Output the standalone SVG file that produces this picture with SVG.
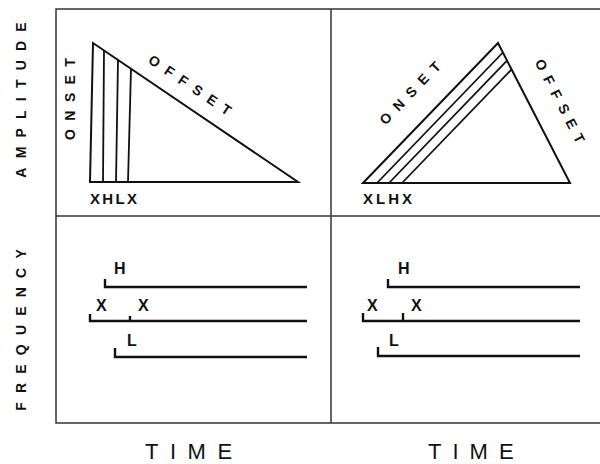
<svg xmlns="http://www.w3.org/2000/svg" width="600" height="464" viewBox="0 0 600 464">
<style>
.frame{stroke:#333;stroke-width:1.5;fill:none}
.tri{stroke:#111;stroke-width:2;fill:none;stroke-linejoin:miter}
.ln{stroke:#111;stroke-width:1.8;fill:none}
.fl{stroke:#111;stroke-width:2.4;fill:none}
.lab{font-family:"Liberation Sans",Arial,sans-serif;font-weight:bold;font-size:14px;fill:#111}
.axis{font-family:"Liberation Sans",Arial,sans-serif;font-weight:bold;font-size:14px;fill:#111;letter-spacing:9.2px}
.mk{font-family:"Liberation Sans",Arial,sans-serif;font-weight:bold;font-size:16px;fill:#111}
.time{font-family:"Liberation Sans",Arial,sans-serif;font-size:22px;fill:#111}
</style>
<rect width="600" height="464" fill="#fff"/>
<g id="frame">
<polyline class="frame" points="600,9 56,9 56,423 600,423"/>
<line class="frame" x1="56" y1="216" x2="600" y2="216"/>
<line class="frame" x1="331" y1="9" x2="331" y2="423"/>
</g>
<g id="axis-labels">
<text class="axis" x="25.6" y="100" text-anchor="middle" dominant-baseline="central" transform="rotate(-90 21 100)">AMPLITUDE</text>
<text class="axis" x="25.6" y="330" text-anchor="middle" dominant-baseline="central" transform="rotate(-90 21 330)">FREQUENCY</text>
<text class="time" x="145" y="459" style="letter-spacing:11.5px">TIME</text>
<text class="time" x="428" y="459" style="letter-spacing:11px">TIME</text>
</g>
<g id="panel-amp-left">
<polygon class="tri" points="93,43 90,182 298,182"/>
<line class="ln" x1="104" y1="50.5" x2="103" y2="182"/>
<line class="ln" x1="118" y1="60" x2="116" y2="182"/>
<line class="ln" x1="131" y1="69" x2="128" y2="182"/>
<text class="lab" x="74.2" y="99" text-anchor="middle" dominant-baseline="central" style="letter-spacing:8.4px" transform="rotate(-90 70 99)">ONSET</text>
<text class="lab" x="194.1" y="85" text-anchor="middle" dominant-baseline="central" style="letter-spacing:8.2px" transform="rotate(34 190 85)">OFFSET</text>
<text class="lab" x="90" y="204" style="font-size:15px;letter-spacing:2.3px">XHLX</text>
</g>
<g id="panel-amp-right">
<polygon class="tri" points="363,183 498,43 570,183"/>
<line class="ln" x1="377" y1="183" x2="502.9" y2="52.5"/>
<line class="ln" x1="389" y1="183" x2="507" y2="60.6"/>
<line class="ln" x1="402" y1="183" x2="511.6" y2="69.4"/>
<text class="lab" x="414.1" y="93" text-anchor="middle" dominant-baseline="central" style="letter-spacing:8.2px" transform="rotate(-46 410 93)">ONSET</text>
<text class="lab" x="563.7" y="101" text-anchor="middle" dominant-baseline="central" style="letter-spacing:7.4px" transform="rotate(62.8 560 101)">OFFSET</text>
<text class="lab" x="363" y="204" style="font-size:15px;letter-spacing:3px">XLHX</text>
</g>
<g id="panel-freq-left">
<polyline class="fl" points="105,279 105,287 307,287"/>
<polyline class="fl" points="90,314 90,321 307,321"/>
<line class="fl" x1="130" y1="316" x2="130" y2="321"/>
<polyline class="fl" points="115,348 115,357 307,357"/>
<text class="mk" x="114" y="274">H</text>
<text class="mk" x="96" y="311">X</text>
<text class="mk" x="138" y="311">X</text>
<text class="mk" x="127" y="346">L</text>
</g>
<g id="panel-freq-right">
<polyline class="fl" points="388,279 388,287 580,287"/>
<polyline class="fl" points="363,313 363,321 580,321"/>
<line class="fl" x1="403" y1="313" x2="403" y2="321"/>
<polyline class="fl" points="378,347 378,356 580,356"/>
<text class="mk" x="398" y="274">H</text>
<text class="mk" x="367" y="311">X</text>
<text class="mk" x="411" y="311">X</text>
<text class="mk" x="389" y="346">L</text>
</g>
</svg>
